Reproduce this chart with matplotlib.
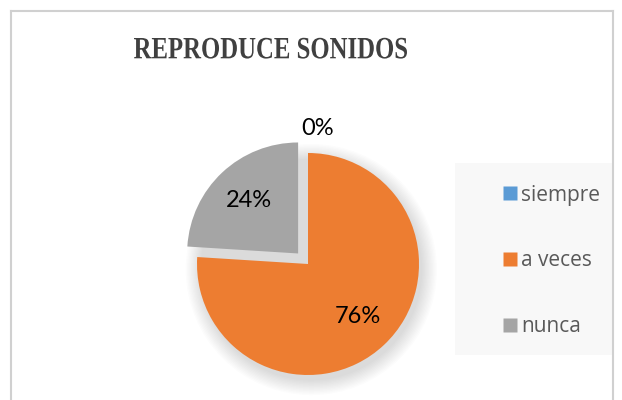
import matplotlib.pyplot as plt
from matplotlib.patches import Rectangle, Circle, PathPatch
from matplotlib.lines import Line2D
from matplotlib.textpath import TextPath
from matplotlib.font_manager import FontProperties
from matplotlib.transforms import Affine2D, IdentityTransform
import numpy as np

# datos del gráfico
categorias = ['siempre', 'a veces', 'nunca']
valores = [0, 76, 24]
colores = ['#5B9BD5', '#ED7D31', '#A5A5A5']
titulo = 'REPRODUCE SONIDOS'

W, H = 622, 400
fig = plt.figure(figsize=(W / 100, H / 100), dpi=100)
fig.patch.set_facecolor('white')

# borde del área del gráfico
borde = dict(color='#d0d0d0', linewidth=1.5, transform=fig.transFigure)
fig.add_artist(Line2D([11 / W, 11 / W], [0, 1 - 11 / H], **borde))
fig.add_artist(Line2D([11 / W, 613 / W], [1 - 11 / H, 1 - 11 / H], **borde))
fig.add_artist(Line2D([613 / W, 613 / W], [0, 1 - 11 / H], **borde))

# título (serif negrita, algo comprimido como en el original)
tp = TextPath((0, 0), titulo, size=31,
              prop=FontProperties(family='Liberation Serif', weight='bold'))
bb = tp.get_extents()
sx = 273 / bb.width
tr = Affine2D().translate(-bb.x0, 0).scale(sx, 1).translate(134, H - 58.3)
fig.add_artist(PathPatch(tr.transform_path(tp), transform=IdentityTransform(),
                         facecolor='#404040', edgecolor='none'))

# fondo de la leyenda
fig.add_artist(Rectangle((455 / W, 1 - 355 / H), (612 - 455) / W, (355 - 163) / H,
                         transform=fig.transFigure, facecolor='#f8f8f8',
                         edgecolor='none', zorder=0))

# pastel
r = 111
cx, cy = 308, 400 - 264
lim = 1.25
ax = fig.add_axes([(cx - lim * r) / W, (cy - lim * r) / H, 2 * lim * r / W, 2 * lim * r / H])
ax.set_xlim(-lim, lim)
ax.set_ylim(-lim, lim)
ax.set_aspect('equal')
ax.axis('off')

# sombra suave
for k in range(12):
    ax.add_patch(Circle((0.03, -0.05), 1.0 + 0.012 * k, facecolor='black',
                        alpha=0.012, edgecolor='none', zorder=0))

wedges, textos, pcts = ax.pie(valores, colors=colores, startangle=90, counterclock=False,
                              explode=[0, 0, 0.13], autopct='%1.0f%%', pctdistance=0.65,
                              textprops=dict(fontsize=17, family='Lato', color='black'),
                              wedgeprops=dict(linewidth=0), radius=1)
for w, t in zip(wedges, pcts):
    w.set_zorder(2)
    t.set_zorder(3)
    if w.theta2 - w.theta1 < 1:
        ang = np.deg2rad(86)
        t.set_position((1.22 * np.cos(ang), 1.22 * np.sin(ang)))

# leyenda
handles = [Line2D([0], [0], marker='s', linestyle='none', markersize=10.5,
                  markerfacecolor=c, markeredgecolor='none') for c in colores]
fig.legend(handles, categorias, loc='center left', bbox_to_anchor=(490 / W, 1 - 261 / H),
           frameon=False, labelspacing=2.15, handletextpad=0.1, handlelength=0.9,
           borderpad=0, prop=dict(family='Open Sans', size=15), labelcolor='#595959')

fig.savefig('out.png', dpi=100)
